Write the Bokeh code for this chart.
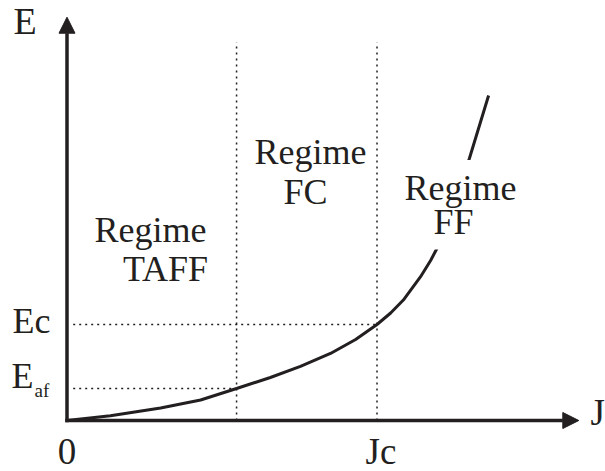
from bokeh.plotting import figure
from bokeh.models import Arrow, NormalHead, Range1d
from bokeh.core.properties import value
from bokeh.embed import file_html
from bokeh.resources import INLINE

# ---- data (J in units of Jc, E in units of Ec) ----
curve_J = [0.0, 0.140, 0.302, 0.431, 0.547, 0.656, 0.753, 0.850, 0.931, 1.000,
           1.044, 1.085, 1.140, 1.173, 1.195, 1.247, 1.298, 1.360]
curve_E = [0.0, 0.050, 0.130, 0.214, 0.333, 0.448, 0.563, 0.698, 0.844, 1.000,
           1.120, 1.255, 1.495, 1.667, 1.802, 2.250, 2.729, 3.385]
J_c = 1.0           # critical current density
J_b = 0.547         # TAFF / FC boundary
E_c = 1.0
E_af = 0.333
J_axis_max = 1.651
E_axis_max = 4.201
E_dot_top = 3.94

regime_lines = ["Regime", "TAFF", "Regime", "FC", "Regime", "FF"]

# ---- layout ----
INK = "#231f20"
FONT = value("Liberation Serif")
W, H = 605, 471
ox, oy, sx, sy = 66.5, 420.0, 310.0, 96.0
DY = -12  # text baseline correction (px)
def jx(px): return (px - ox) / sx
def ey(py): return (oy - py) / sy
def ty(py): return ey(py + DY)

p = figure(width=W, height=H,
           x_range=Range1d(jx(0), jx(W)), y_range=Range1d(ey(H), ey(0)),
           x_axis_type=None, y_axis_type=None,
           output_backend="svg", toolbar_location=None, min_border=0)
p.grid.visible = False
p.outline_line_color = None
p.background_fill_color = "white"
p.border_fill_color = "white"

dot = dict(line_color=INK, line_width=1.5, line_dash="2 4")
# vertical dotted lines
p.segment(x0=[J_b, J_c], y0=[0, 0], x1=[J_b, J_c], y1=[E_dot_top, E_dot_top], **dot)
# horizontal dotted lines
p.segment(x0=[0.02, 0.02], y0=[E_af, E_c], x1=[J_b, J_c], y1=[E_af, E_c], **dot)

# curve
p.line(curve_J, curve_E, line_color=INK, line_width=3)

# axes with arrow heads
p.add_layout(Arrow(x_start=-1.75 / sx, y_start=0, x_end=J_axis_max, y_end=0,
                   line_color=INK, line_width=3.5,
                   end=NormalHead(size=16, fill_color=INK, line_color=INK, line_width=1)))
p.add_layout(Arrow(x_start=0, y_start=-1.75 / sy, x_end=0, y_end=E_axis_max,
                   line_color=INK, line_width=3.5,
                   end=NormalHead(size=16, fill_color=INK, line_color=INK, line_width=1)))

txt = dict(text_font=FONT, text_color=INK, text_baseline="alphabetic")
# axis labels
p.text(x=[jx(13)], y=[ty(32)], text=["E"], text_font_size="38px", text_align="left", **txt)
p.text(x=[jx(590)], y=[ty(424)], text=["J"], text_font_size="37px", text_align="left", **txt)
p.text(x=[0], y=[ty(463)], text=["0"], text_font_size="37px", text_align="center", **txt)
p.text(x=[J_c + 4 / sx], y=[ty(463)], text=["Jc"], text_font_size="37px",
       text_align="center", **txt)
p.text(x=[jx(12)], y=[ty(332)], text=["Ec"], text_font_size="36px", text_align="left", **txt)
p.text(x=[jx(11)], y=[ty(387.5)], text=["E"], text_font_size="36px", text_align="left", **txt)
p.text(x=[jx(34)], y=[ty(401.5)], text=["af"], text_font_size="19px", text_align="left", **txt)

# regime labels
rx = [jx(150), jx(165), jx(310), jx(305)]
ry = [ty(241), ty(280), ty(163.5), ty(203.5)]
p.text(x=rx, y=ry, text=regime_lines[:4], text_font_size="36px", text_align="center", **txt)
ffx = [jx(460), jx(453)]
ffy = [ty(199.5), ty(233)]
# white boxes behind the FF label (hide the curve), then the label itself
p.text(x=ffx, y=ffy, text=regime_lines[4:], text_font_size="36px", text_align="center",
       text_alpha=0, background_fill_color="white", padding=8,
       text_font=FONT, text_baseline="alphabetic")
p.text(x=ffx, y=ffy, text=regime_lines[4:], text_font_size="36px", text_align="center", **txt)

open("out.html", "w").write(file_html(p, INLINE))
